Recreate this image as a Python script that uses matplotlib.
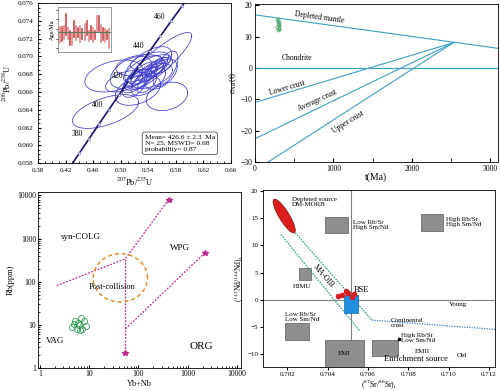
"""
Four-panel zircon U-Pb / Nd-Sr isotope / Rb discrimination figure.
"""

import numpy as np
import matplotlib.pyplot as plt
from matplotlib.patches import Rectangle
from matplotlib.ticker import FixedLocator, FuncFormatter, MultipleLocator, LogLocator, NullFormatter

plt.rcParams['font.family'] = ['Liberation Serif', 'DejaVu Serif']
plt.rcParams['mathtext.fontset'] = 'stix'
plt.rcParams['font.size'] = 6
plt.rcParams['axes.linewidth'] = 0.6

# ---- panel a: concordia ----
cc_age = [360, 370, 380, 390, 400, 410, 420, 430, 440, 450, 460, 470, 480]
cc_pb207 = [0.42553, 0.43964, 0.45390, 0.46829, 0.48280, 0.49744, 0.51226,
            0.52725, 0.54238, 0.55768, 0.57306, 0.58865, 0.60436]
cc_pb206 = [0.057434, 0.059075, 0.060720, 0.062366, 0.064016, 0.065667, 0.067322,
            0.068979, 0.070638, 0.072300, 0.073965, 0.075633, 0.077302]
cc_labels = [380, 400, 420, 440, 460]

# error ellipses: centre x, centre y, half-width x, half-width y, correlation
ell_x = [0.478, 0.490, 0.553, 0.567, 0.525, 0.540, 0.505, 0.530, 0.535, 0.545,
         0.552, 0.525, 0.540, 0.558, 0.548, 0.532, 0.520, 0.560, 0.538, 0.545,
         0.515, 0.550, 0.528, 0.542, 0.565]
ell_y = [0.0638, 0.0678, 0.0693, 0.0655, 0.0662, 0.0690, 0.0672, 0.0680, 0.0676, 0.0684,
         0.0688, 0.0674, 0.0672, 0.0680, 0.0692, 0.0686, 0.0668, 0.0690, 0.0670, 0.0678,
         0.0682, 0.0685, 0.0690, 0.0695, 0.0686]
ell_sx = [0.048, 0.042, 0.050, 0.030, 0.033, 0.034, 0.027, 0.022, 0.018, 0.020,
          0.016, 0.020, 0.025, 0.024, 0.025, 0.028, 0.018, 0.015, 0.014, 0.030,
          0.030, 0.012, 0.035, 0.028, 0.018]
ell_sy = [0.0019, 0.0018, 0.0034, 0.0016, 0.0017, 0.0021, 0.0012, 0.0014, 0.0013, 0.0012,
          0.0011, 0.0012, 0.0016, 0.0017, 0.0010, 0.0015, 0.0014, 0.0009, 0.0011, 0.0014,
          0.0018, 0.0009, 0.0012, 0.0010, 0.0020]
ell_rho = [0.55, 0.35, 0.88, 0.25, 0.40, 0.60, 0.50, 0.75, 0.80, 0.70,
           0.70, 0.60, 0.60, 0.50, 0.60, 0.70, 0.50, 0.50, 0.60, 0.50,
           0.45, 0.60, 0.30, 0.50, 0.60]

# inset weighted-mean bars (Ma)
bar_low = [416.6, 417.3, 420.0, 423.3, 420.0, 413.3, 413.3, 421.6, 418.3, 421.6,
           416.6, 420.0, 418.3, 423.3, 417.3, 419.3, 416.6, 420.0, 428.3, 428.3,
           416.6, 418.3, 416.6, 419.3, 410.0]
bar_high = [432.3, 432.6, 433.3, 445.6, 431.6, 428.3, 425.0, 438.3, 433.3, 431.6,
            433.3, 430.0, 435.0, 438.3, 428.3, 433.3, 431.6, 428.3, 443.3, 444.0,
            434.0, 431.6, 430.0, 428.3, 430.0]
mean_age = 426.6

# ---- panel b: eNd(t) vs t ----
dm_t, dm_e = [0, 3100], [17.0, 6.3]
crust_apex = (2530, 8.1)
lower_start = (0, -11.0)
average_start = (0, -22.6)
upper_start = (170, -30.0)
sample_t = [280, 300, 290, 310, 285, 300, 295, 305, 290, 300, 292]
sample_e = [15.3, 14.7, 14.1, 13.6, 13.1, 12.6, 12.1, 13.9, 14.9, 12.9, 15.8]

# ---- panel c: Rb vs Yb+Nb ----
line1_x, line1_y = [2.2, 54, 410], [81, 340, 8000]
line2_x, line2_y = [54, 54], [340, 2.2]
line3_x, line3_y = [55, 2230], [8.1, 470]
star_x, star_y = [410, 54, 2230], [8000, 2.2, 470]
post_cx, post_cy, post_a, post_b = 43, 123, 0.55, 0.56  # log-space ellipse
vag_x = [4.5, 5.2, 5.6, 6.2, 6.8, 7.2, 7.8, 6.4, 8.6, 5.9, 4.9]
vag_y = [9.0, 12.0, 8.0, 10.0, 14.5, 8.0, 12.5, 7.5, 9.5, 11.0, 10.5]

# ---- panel d: Nd vs Sr ----
gray_boxes = [  # x0, x1, y0, y1
    (0.70387, 0.70503, 12.2, 15.2),
    (0.70862, 0.70973, 12.7, 15.7),
    (0.70258, 0.70320, 3.7, 5.8),
    (0.70190, 0.70306, -7.3, -4.3),
    (0.70389, 0.70582, -13.0, -7.4),
    (0.70620, 0.70750, -10.3, -7.3),
]
bse_box = (0.70480, 0.70553, -2.4, 0.9)
dm_ell = (0.70185, 15.4, 0.00055, 3.1, -0.85)
bse_x = [0.7047, 0.7050, 0.7052, 0.7045, 0.7049, 0.7053]
bse_y = [0.9, 1.3, 0.6, 0.7, 1.6, 1.1]
oib_up_x, oib_up_y = [0.70176, 0.7062], [15.0, -3.7]
oib_lo_x, oib_lo_y = [0.70169, 0.70562], [12.0, -5.8]
cc_x, cc_y = [0.7062, 0.7123], [-3.7, -5.4]


def ellipse_xy(cx, cy, sx, sy, rho, n=120):
    th = np.linspace(0, 2 * np.pi, n)
    return cx + sx * np.cos(th), cy + sy * (rho * np.cos(th) + np.sqrt(1 - rho ** 2) * np.sin(th))


fig = plt.figure(figsize=(5.0, 3.91), dpi=100)

# panel a
ax1 = fig.add_axes([0.076, 0.583, 0.386, 0.409])
for cx, cy, sx, sy, r in zip(ell_x, ell_y, ell_sx, ell_sy, ell_rho):
    ex, ey = ellipse_xy(cx, cy, sx, sy, r)
    ax1.plot(ex, ey, color='#3c3ccf', lw=0.55)
ax1.plot(cc_pb207, cc_pb206, color='#141470', lw=1.2, zorder=3)
ax1.plot(cc_pb207, cc_pb206, 's', ms=2, mfc='white', mec='#8080c0', mew=0.5, zorder=4)
for a, x, y in zip(cc_age, cc_pb207, cc_pb206):
    if a in cc_labels:
        ax1.text(x - 0.008, y + 0.0005, str(a), ha='right', va='center', fontsize=5.5)
ax1.set_xlim(0.38, 0.66)
ax1.set_ylim(0.058, 0.076)
ax1.xaxis.set_major_locator(FixedLocator([0.38, 0.42, 0.46, 0.50, 0.54, 0.58, 0.62, 0.66]))
ax1.yaxis.set_major_locator(MultipleLocator(0.002))
ax1.xaxis.set_minor_locator(MultipleLocator(0.01))
ax1.yaxis.set_minor_locator(MultipleLocator(0.0005))
ax1.xaxis.set_major_formatter(FuncFormatter(lambda v, p: f"{v:.2f}"))
ax1.yaxis.set_major_formatter(FuncFormatter(lambda v, p: f"{v:.3f}"))
ax1.tick_params(which='both', direction='in', labelsize=5)
ax1.tick_params(which='major', length=2.5)
ax1.tick_params(which='minor', length=1.2)
ax1.set_xlabel(r"$^{207}$Pb/$^{235}$U", fontsize=6, labelpad=2)
ax1.set_ylabel(r"$^{206}$Pb/$^{238}$U", fontsize=6, labelpad=3)
ax1.text(0.535, 0.0612, "Mean= 426.6 ± 2.3  Ma\nN= 25, MSWD= 0.68\nprobability= 0.87",
         fontsize=5.3, va='top', ha='left', linespacing=1.3,
         bbox=dict(boxstyle='round,pad=0.35', fc='white', ec='#555555', lw=0.6))

ins = fig.add_axes([0.116, 0.867, 0.106, 0.115])
for i, (lo, hi) in enumerate(zip(bar_low, bar_high)):
    ins.plot([i, i], [lo, hi], color='#c84848' if i % 2 else '#e08888', lw=1.2)
ins.axhline(mean_age, color='#5c7a5c', lw=0.8)
ins.set_xlim(-1.2, len(bar_low) + 0.2)
ins.set_ylim(406, 453)
ins.set_xticks([])
ins.yaxis.set_major_locator(MultipleLocator(10))
ins.tick_params(axis='y', direction='out', length=1.5, labelleft=False, width=0.5)
for s in ins.spines.values():
    s.set_color('#888888')
    s.set_linewidth(0.6)
ins.set_ylabel("Age/Ma", fontsize=4.5, labelpad=1)

# panel b
ax2 = fig.add_axes([0.51, 0.586, 0.486, 0.404])
lc = '#3d9fc8'
ax2.plot(dm_t, dm_e, color=lc, lw=0.8)
ax2.axhline(0, color=lc, lw=0.8)
for st in (lower_start, average_start, upper_start):
    ax2.plot([st[0], crust_apex[0]], [st[1], crust_apex[1]], color=lc, lw=0.8)
ax2.plot(sample_t, sample_e, 'o', ms=2.2, mfc='none', mec='#3aa060', mew=0.5)
ax2.text(815, 16.2, "Depleted mantle", rotation=-7.7, ha='center', va='center', fontsize=5.5)
ax2.text(540, 3.2, "Chondrite", ha='center', va='center', fontsize=5.5)
ax2.text(415, -6.5, "Lower crust", rotation=16, ha='center', va='center', fontsize=5.5)
ax2.text(790, -10.3, "Average crust", rotation=25, ha='center', va='center', fontsize=5.5)
ax2.text(1190, -17.4, "Upper crust", rotation=32, ha='center', va='center', fontsize=5.5)
ax2.set_xlim(0, 3100)
ax2.set_ylim(-30, 20.5)
ax2.xaxis.set_major_locator(MultipleLocator(1000))
ax2.xaxis.set_minor_locator(MultipleLocator(500))
ax2.yaxis.set_major_locator(MultipleLocator(10))
ax2.tick_params(which='both', direction='in', labelsize=5.5, pad=2)
ax2.tick_params(which='major', length=3)
ax2.tick_params(which='minor', length=3)
ax2.set_xlabel("t(Ma)", fontsize=7, labelpad=0)
ax2.set_ylabel(r"$\varepsilon_{\rm Nd}$(t)", fontsize=6.5, labelpad=1)

# panel c
ax3 = fig.add_axes([0.076, 0.0588, 0.406, 0.450])
mc = '#c02c8c'
for lx, ly in ((line1_x, line1_y), (line2_x, line2_y), (line3_x, line3_y)):
    ax3.plot(lx, ly, color=mc, lw=0.9, ls=(0, (1.5, 1.2)))
ax3.plot(star_x, star_y, '*', color=mc, ms=4)
th = np.linspace(0, 2 * np.pi, 200)
ax3.plot(10 ** (np.log10(post_cx) + post_a * np.cos(th)),
         10 ** (np.log10(post_cy) + post_b * np.sin(th)),
         color='#e0891e', lw=1.0, ls=(0, (3, 2)))
ax3.plot(vag_x, vag_y, 'o', ms=4.3, mfc='none', mec='#2e9a4e', mew=0.6)
ax3.set_xscale('log')
ax3.set_yscale('log')
ax3.set_xlim(0.92, 12000)
ax3.set_ylim(1, 12000)
fmt = FuncFormatter(lambda v, p: f"{v:g}")
ax3.xaxis.set_major_formatter(fmt)
ax3.yaxis.set_major_formatter(fmt)
for axis in (ax3.xaxis, ax3.yaxis):
    axis.set_major_locator(LogLocator(base=10, numticks=10))
    axis.set_minor_locator(LogLocator(base=10, subs=np.arange(2, 10), numticks=10))
    axis.set_minor_formatter(NullFormatter())
ax3.tick_params(which='both', direction='in', labelsize=5.5, pad=1.5)
ax3.tick_params(which='major', length=2.5)
ax3.tick_params(which='minor', length=1.5)
ax3.text(2.6, 1100, "syn-COLG", fontsize=6.5, ha='left', va='center')
ax3.text(430, 590, "WPG", fontsize=6.5, ha='left', va='center')
ax3.text(10, 76, "Post-collision", fontsize=6, ha='left', va='center')
ax3.text(1.3, 4.2, "VAG", fontsize=6.5, ha='left', va='center')
ax3.text(1100, 3.1, "ORG", fontsize=8, ha='left', va='center')
ax3.set_xlabel("Yb+Nb", fontsize=6, labelpad=1.5)
ax3.set_ylabel("Rb(ppm)", fontsize=6, labelpad=2)

# panel d
ax4 = fig.add_axes([0.526, 0.0614, 0.464, 0.453])
ax4.axvline(0.70514, color='#808080', lw=0.8)
ax4.axhline(0, color='#808080', lw=0.8)
for x0, x1, y0, y1 in gray_boxes:
    ax4.add_patch(Rectangle((x0, y0), x1 - x0, y1 - y0, fc='#8e8e8e', ec='#6a6a6a', lw=0.6, zorder=2))
ax4.add_patch(Rectangle((bse_box[0], bse_box[2]), bse_box[1] - bse_box[0], bse_box[3] - bse_box[2],
                        fc='#1e8fe3', ec='#1565a8', lw=0.5, zorder=3))
ex, ey = ellipse_xy(*dm_ell)
ax4.fill(ex, ey, fc='#dd1c1c', ec='#8a1010', lw=0.5, zorder=3)
ax4.plot(bse_x, bse_y, 'o', ms=3, color='#d81e1e', zorder=4)
ax4.plot(oib_up_x, oib_up_y, color='#2a9a74', lw=0.8, ls=(0, (1.5, 1)), zorder=2)
ax4.plot(oib_lo_x, oib_lo_y, color='#2a9a74', lw=0.8, ls=(0, (1.5, 1)), zorder=2)
ax4.plot(cc_x, cc_y, color='#3a7ac8', lw=0.9, ls=(0, (1, 1)), zorder=2)
ax4.plot([0.70756], [-7.1], 's', ms=1.6, color='black', zorder=4)
ax4.text(0.70224, 18.0, "Depleted source\nDM-MORB", fontsize=5, ha='left', va='center', linespacing=1.1)
ax4.text(0.70526, 13.7, "Low Rb/Sr\nHigh Sm/Nd", fontsize=5, ha='left', va='center', linespacing=1.1)
ax4.text(0.70987, 14.3, "High Rb/Sr\nHigh Sm/Nd", fontsize=5, ha='left', va='center', linespacing=1.1)
ax4.text(0.70272, 2.5, "HIMU", fontsize=5, ha='center', va='center')
ax4.text(0.70379, 4.4, "MA-OIB", fontsize=5.5, ha='center', va='center', rotation=-49)
ax4.text(0.70528, 1.9, "BSE", fontsize=6, ha='left', va='center')
ax4.text(0.71045, -0.8, "Young", fontsize=5, ha='center', va='center')
ax4.text(0.70712, -4.2, "Continental\ncrust", fontsize=5, ha='left', va='center', linespacing=1.1)
ax4.text(0.70190, -3.1, "Low Rb/Sr\nLow Sm/Nd", fontsize=5, ha='left', va='center', linespacing=1.1)
ax4.text(0.70765, -7.0, "High Rb/Sr\nLow Sm/Nd", fontsize=5, ha='left', va='center', linespacing=1.1)
ax4.text(0.70485, -9.8, "EMI", fontsize=5, ha='center', va='center', zorder=5)
ax4.text(0.70872, -9.4, "EMII", fontsize=5, ha='center', va='center')
ax4.text(0.70838, -10.9, "Enrichment source", fontsize=6, ha='center', va='center', zorder=5)
ax4.text(0.71065, -10.2, "Old", fontsize=5, ha='center', va='center')
ax4.set_xlim(0.7008, 0.7123)
ax4.set_ylim(-12.3, 20.2)
ax4.xaxis.set_major_locator(MultipleLocator(0.002))
ax4.yaxis.set_major_locator(MultipleLocator(5))
ax4.xaxis.set_major_formatter(FuncFormatter(lambda v, p: f"{v:.3f}"))
ax4.tick_params(which='both', direction='out', length=2, labelsize=5, pad=1.5)
ax4.set_xlabel(r"($^{87}$Sr/$^{86}$Sr)$_{\rm i}$", fontsize=5.5, labelpad=0.5)
ax4.set_ylabel(r"($^{143}$Nd/$^{144}$Nd)$_{\rm i}$", fontsize=5.5, labelpad=1)

fig.savefig("out.png", dpi=100)
plt.close(fig)
